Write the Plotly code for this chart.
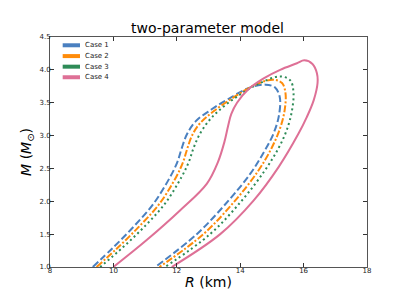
import plotly.graph_objects as go

case_names = ["Case 1", "Case 2", "Case 3", "Case 4"]

r_case1 = [9.35, 10.0, 10.63, 11.26, 11.79, 12.02, 12.15, 12.32, 12.6, 13.1, 13.6, 14.3, 14.8, 15.1, 15.25, 15.22, 15.05, 14.75, 14.32, 13.63, 12.63, 11.32]
m_case1 = [1.0, 1.3, 1.61, 1.96, 2.37, 2.6, 2.8, 3.02, 3.22, 3.4, 3.55, 3.73, 3.775, 3.73, 3.58, 3.3, 3.03, 2.75, 2.42, 2.01, 1.5, 1.0]

r_case2 = [9.47, 10.15, 10.8, 11.45, 11.98, 12.2, 12.33, 12.48, 12.72, 13.16, 13.79, 14.5, 15.05, 15.32, 15.43, 15.4, 15.25, 14.98, 14.55, 13.84, 12.84, 11.45]
m_case2 = [1.0, 1.3, 1.61, 1.96, 2.37, 2.6, 2.8, 3.0, 3.18, 3.37, 3.58, 3.78, 3.85, 3.8, 3.64, 3.38, 3.1, 2.8, 2.45, 2.01, 1.5, 1.0]

r_case3 = [9.58, 10.3, 10.97, 11.62, 12.15, 12.38, 12.52, 12.7, 12.97, 13.3, 13.89, 14.63, 15.26, 15.58, 15.68, 15.64, 15.48, 15.2, 14.75, 14.05, 13.05, 11.63]
m_case3 = [1.0, 1.3, 1.61, 1.96, 2.37, 2.6, 2.8, 3.0, 3.2, 3.37, 3.59, 3.8, 3.9, 3.84, 3.66, 3.4, 3.1, 2.8, 2.45, 2.01, 1.5, 1.0]

r_case4 = [10.0, 11.05, 12.1, 12.95, 13.3, 13.5, 13.62, 13.72, 13.9, 14.25, 14.74, 15.26, 15.79, 16.02, 16.28, 16.42, 16.44, 16.32, 16.1, 15.84, 15.21, 14.42, 13.37, 11.84]
m_case4 = [1.0, 1.41, 1.86, 2.27, 2.6, 2.9, 3.15, 3.33, 3.5, 3.7, 3.87, 4.0, 4.1, 4.145, 4.09, 3.95, 3.8, 3.54, 3.28, 3.03, 2.52, 2.01, 1.5, 1.0]

x_ticks = [8, 10, 12, 14, 16, 18]
y_ticks = [1.0, 1.5, 2.0, 2.5, 3.0, 3.5, 4.0, 4.5]

colors = ["#4a80c0", "#ff8c0a", "#2e8b57", "#de7096"]
dashes = ["7px,3px", "7px,2px,2px,2px", "2px,3px", "solid"]
data_r = [r_case1, r_case2, r_case3, r_case4]
data_m = [m_case1, m_case2, m_case3, m_case4]

fig = go.Figure()
for name, rr, mm, c, d in zip(case_names, data_r, data_m, colors, dashes):
    fig.add_trace(go.Scatter(x=rr, y=mm, mode="lines", name=name, showlegend=False,
                             line=dict(color=c, width=2, dash=d, shape="spline", smoothing=1.0)))

# legend drawn in paper coordinates (matplotlib-style compact legend)
leg_y = [0.964, 0.917, 0.871, 0.825]
for name, c, ly in zip(case_names, colors, leg_y):
    fig.add_shape(type="line", xref="paper", yref="paper", x0=0.040, x1=0.0947, y0=ly, y1=ly,
                  line=dict(color=c, width=4))
    fig.add_annotation(xref="paper", yref="paper", x=0.104, y=ly, xanchor="left", yanchor="middle",
                       text=name, showarrow=False,
                       font=dict(family="DejaVu Sans", size=7, color="#222222"))

axis_common = dict(showgrid=False, zeroline=False, showline=True, linecolor="#555555", linewidth=1,
                   mirror="ticks", ticks="inside", ticklen=4, tickcolor="#333333",
                   ticklabelstandoff=-3,
                   tickfont=dict(family="DejaVu Sans", size=7, color="#222222"))

fig.update_layout(
    width=399, height=297,
    margin=dict(l=42, r=40, t=29, b=38),
    paper_bgcolor="white", plot_bgcolor="white",
    showlegend=False,
    title=dict(text="two-parameter model", x=0.5, xanchor="center", y=0.934, yanchor="middle",
               font=dict(family="DejaVu Sans", size=14, color="black")),
    xaxis=dict(range=[8, 18], tickvals=x_ticks, ticktext=[str(t) for t in x_ticks],
               title=dict(text="<i>R</i> (km)", font=dict(family="DejaVu Sans", size=14, color="black"), standoff=2),
               **axis_common),
    yaxis=dict(range=[1.0, 4.5], tickvals=y_ticks, ticktext=[f"{t:.1f}" for t in y_ticks],
               title=dict(text="<i>M</i> (<i>M</i><sub>⊙</sub>)", font=dict(family="DejaVu Sans", size=14, color="black"), standoff=4),
               **axis_common),
)

fig.write_html("out.html")
